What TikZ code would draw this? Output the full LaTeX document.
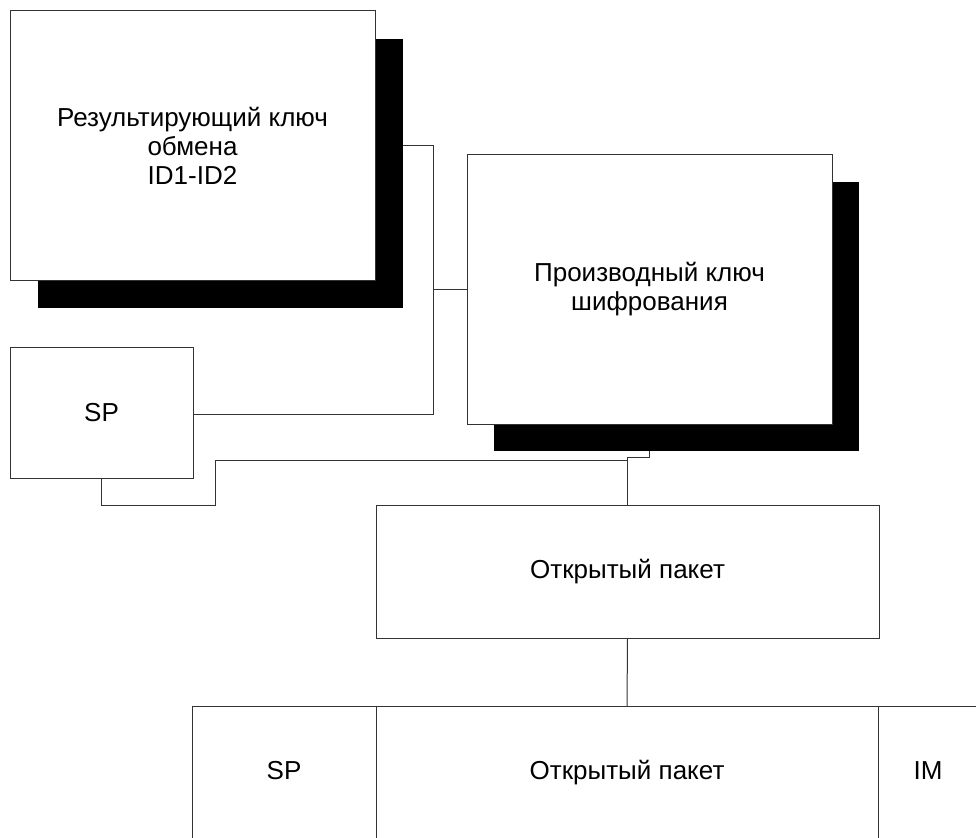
\documentclass[tikz,border=0pt]{standalone}
\usepackage{fontspec}
\setmainfont{Liberation Sans}
\usetikzlibrary{positioning,calc}
\tikzset{
  key box/.style={
    rectangle,
    draw=black!80,
    fill=white,
    line width=1pt,
    outer sep=0pt,
    inner sep=2pt,
    align=center,
    font=\fontsize{26}{29}\selectfont,
  },
  big box/.style={key box, minimum width=365pt, minimum height=269pt},
  key shadow/.style={
    rectangle,
    fill=black,
    outer sep=0pt,
    inner sep=0pt,
    minimum width=365pt,
    minimum height=269pt,
  },
  cell box/.style={key box, minimum height=133pt, text height=19pt, text depth=6pt},
  link/.style={draw=black!80, line width=1pt},
}

\begin{document}
\begin{tikzpicture}[x=1pt,y=-1pt]
  \useasboundingbox (0,0) rectangle (976,837);

  % shadows first, boxes on top
  \node[key shadow] (res sh) at (220.5,173.5) {};
  \node[key shadow] (deriv sh) at (676.5,316.5) {};

  \node[big box] (res) at (192.5,145.5) {Результирующий ключ\\обмена\\ID1-ID2};
  \node[big box] (deriv) at (649.5,289.5) {Производный ключ\\шифрования};
  \node[key box, minimum width=183pt, minimum height=131pt] (sp) at (101.5,412.5) {SP};
  \node[cell box, minimum width=503pt] (open) at (627.5,571.5) {Открытый пакет};

  % packet row
  \node[cell box, minimum width=502pt] (pkt) at (627,772.5) {Открытый пакет};
  \node[cell box, minimum width=184pt, left=0pt of pkt] (pkt sp) {SP};
  \node[cell box, minimum width=100pt, right=0pt of pkt] (pkt im) {IM};

  \coordinate (j1) at (433,414);
  \coordinate (k1) at (215,505);
  \coordinate (k2) at (627.5,460);

  \draw[link] (res.east -| res sh.east) -| (j1) -- (j1 -| sp.east);
  \draw[link] (j1 |- deriv.west) -- (deriv.west);
  \draw[link] (sp.south) |- (k1) |- (k2);
  \draw[link] (deriv.center |- deriv sh.south) -- ++(0,6) -| (open.north);
  \draw[link] (open.south) -- (pkt.north);
\end{tikzpicture}
\end{document}
